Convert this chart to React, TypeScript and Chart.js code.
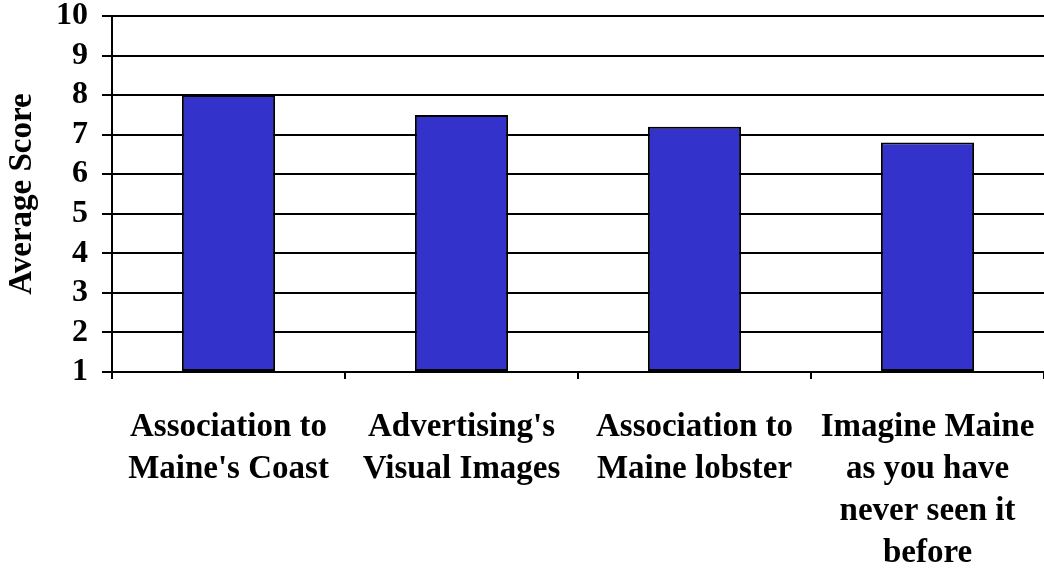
import React, { useEffect, useRef } from "react";
import { Chart, registerables } from "chart.js";

Chart.register(...registerables);

const categories: string[][] = [
  ["Association to", "Maine's Coast"],
  ["Advertising's", "Visual Images"],
  ["Association to", "Maine lobster"],
  ["Imagine Maine", "as you have", "never seen it", "before"],
];
const scores: number[] = [8.0, 7.5, 7.2, 6.8];
const yTicks: number[] = [1, 2, 3, 4, 5, 6, 7, 8, 9, 10];
const yTitle = "Average Score";

const FONT = "'Liberation Serif', 'Times New Roman', Times, serif";

export default function App() {
  const ref = useRef<HTMLCanvasElement | null>(null);

  useEffect(() => {
    if (!ref.current) return;
    const chart = new Chart(ref.current, {
      type: "bar",
      data: {
        labels: categories,
        datasets: [
          {
            data: scores,
            base: yTicks[0],
            backgroundColor: "#3333CC",
            borderColor: "#000000",
            borderWidth: 2,
            borderSkipped: false,
            barPercentage: 0.4,
            categoryPercentage: 1,
          } as any,
        ],
      },
      options: {
        responsive: false,
        animation: false,
        layout: { padding: { top: 16, right: -1, left: 0, bottom: 0 } },
        plugins: {
          legend: { display: false },
          tooltip: { enabled: false },
        },
        scales: {
          x: {
            type: "category",
            offset: true,
            grid: {
              display: true,
              drawOnChartArea: false,
              drawTicks: true,
              tickLength: 7,
              color: "#000000",
              lineWidth: 2,
              offset: true,
            },
            border: { display: true, color: "#000000", width: 2 },
            ticks: {
              color: "#000000",
              font: { family: FONT, size: 33, weight: "bold", lineHeight: 1.27 },
              maxRotation: 0,
              minRotation: 0,
              autoSkip: false,
              padding: 28,
            },
            afterFit: (scale: any) => {
              scale.height = 197;
              scale.paddingLeft = 0;
              scale.paddingRight = 0;
            },
          },
          y: {
            type: "linear",
            min: yTicks[0],
            max: yTicks[yTicks.length - 1],
            afterBuildTicks: (scale: any) => {
              scale.ticks = yTicks.map((v) => ({ value: v }));
            },
            grid: {
              display: true,
              drawOnChartArea: true,
              drawTicks: true,
              tickLength: 10,
              color: "#000000",
              lineWidth: 2,
            },
            border: { display: true, color: "#000000", width: 2 },
            ticks: {
              color: "#000000",
              font: { family: FONT, size: 32, weight: "bold", lineHeight: 1 },
              padding: 14,
            },
            title: {
              display: true,
              text: yTitle,
              color: "#000000",
              font: { family: FONT, size: 33, weight: "bold", lineHeight: 1 },
              padding: { top: 6, bottom: 0 },
            },
            afterFit: (scale: any) => {
              scale.width = 112;
              scale.paddingTop = 0;
              scale.paddingBottom = 0;
            },
          },
        },
      },
    });
    return () => chart.destroy();
  }, []);

  return (
    <div
      style={{
        position: "fixed",
        left: 0,
        top: 0,
        width: 1044,
        height: 569,
        background: "#ffffff",
      }}
    >
      <canvas ref={ref} width={1044} height={569} />
    </div>
  );
}
